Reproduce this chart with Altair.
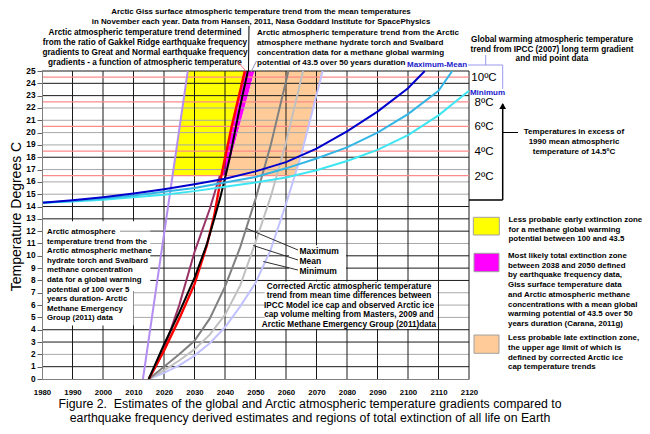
import altair as alt
import pandas as pd

# ---------------- data ----------------
X_TICKS = list(range(1980, 2121, 10))
Y_TICKS = list(range(0, 26))

# IPCC (2007) global warming trends
IPCC_MAX_YEAR = [1980, 1990, 2000, 2010, 2020, 2030, 2040, 2050, 2060, 2070, 2080, 2090, 2100, 2105.5]
IPCC_MAX_T = [14.3, 14.5, 14.75, 15.05, 15.4, 15.8, 16.25, 16.85, 17.6, 18.7, 20.1, 21.7, 23.6, 25.0]
IPCC_MEAN_YEAR = [1980, 1990, 2000, 2010, 2020, 2030, 2040, 2050, 2060, 2070, 2080, 2090, 2100, 2110, 2114.5]
IPCC_MEAN_T = [14.3, 14.45, 14.65, 14.9, 15.2, 15.5, 15.95, 16.4, 17.1, 17.9, 18.8, 20.0, 21.5, 23.4, 25.0]
IPCC_MIN_YEAR = [1980, 1990, 2000, 2010, 2020, 2030, 2040, 2050, 2060, 2070, 2080, 2090, 2100, 2110, 2120]
IPCC_MIN_T = [14.3, 14.4, 14.55, 14.75, 14.95, 15.25, 15.6, 15.95, 16.35, 16.95, 17.7, 18.6, 19.8, 21.4, 23.4]

# Arctic methane (GWP 100 over 5 years)
AMEG100_YEAR = [2013.1, 2027.8]
AMEG100_T = [0, 25]
# Arctic methane (GWP 43.5 over 50 years)
AMEG43_YEAR = [2015, 2017.5, 2020, 2025, 2030, 2035, 2038.3]
AMEG43_T = [0, 1.1, 2.4, 6.0, 10.3, 13.8, 16.5]
# Gakkel Ridge earthquake frequency trend
GAKKEL_YEAR = [2015, 2020, 2025, 2030, 2034, 2036.5, 2038.8, 2042, 2046.5]
GAKKEL_T = [0, 2.3, 4.9, 7.7, 10.8, 13.3, 16.5, 20.3, 25]
# Arctic GISS surface temperature trend
GISS_YEAR = [2015, 2020, 2025, 2030, 2034, 2036.5, 2038.3, 2040, 2041.5, 2044.5, 2047.5]
GISS_T = [0, 2.8, 5.4, 8.2, 10.9, 13.0, 14.6, 16.3, 17.9, 21.6, 25]
# Corrected Arctic ice-cap trends
ICE_MAX_YEAR = [2015, 2020, 2025, 2030, 2035, 2040, 2045, 2050, 2055, 2060.8]
ICE_MAX_T = [0, 1.0, 2.0, 3.1, 4.9, 7.5, 10.7, 14.6, 19.0, 25]
ICE_MEAN_YEAR = [2015, 2020, 2025, 2030, 2035, 2040, 2045, 2050, 2055, 2060, 2065.6]
ICE_MEAN_T = [0, 0.7, 1.5, 2.4, 3.6, 5.2, 7.6, 11.1, 14.8, 19.2, 25]
ICE_MIN_YEAR = [2015, 2020, 2025, 2030, 2035, 2040, 2045, 2050, 2055, 2060, 2065, 2072]
ICE_MIN_T = [0, 0.5, 1.1, 1.9, 2.9, 4.2, 5.9, 7.8, 10.5, 14.2, 18.2, 25]

# extinction zones (temperature levels and left/right year boundaries)
ZONE_T = [16.5, 18, 20, 22, 24, 25]
YELLOW_LEFT = [2022.8, 2023.7, 2024.9, 2026.0, 2027.2, 2027.8]
YELLOW_RIGHT = [2038.8, 2040.1, 2041.75, 2043.6, 2045.5, 2046.5]
MAGENTA_RIGHT = [2040.4, 2042.0, 2044.2, 2046.4, 2048.6, 2049.7]
ORANGE_RIGHT = [2062.9, 2064.75, 2066.85, 2068.9, 2071.0, 2072.0]

# excess-temperature reference lines
EXCESS_T = [24.5, 22.5, 20.5, 18.5, 16.5]
EXCESS_LABELS = ["10ºC", "8ºC", "6ºC", "4ºC", "2ºC"]

GRID_YEARS = list(range(1990, 2121, 10))
GRID_BLACK = [1, 3, 4, 8, 9, 10, 12, 13, 14, 18, 23, 24, 25]
GRID_GRAY = [2, 5, 6, 7, 11, 15, 16, 17, 19, 20, 21, 22]

# ---------------- chart ----------------
W, H = 427, 308
FONT = "Liberation Sans, Arial, sans-serif"

xs = alt.Scale(domain=[1980, 2120], nice=False, zero=False)
ys = alt.Scale(domain=[0, 25], nice=False, zero=False)

xaxis = alt.Axis(values=X_TICKS, title=None, grid=False, ticks=False, labelPadding=9,
                 labelFont=FONT, labelFontSize=7.8, labelFontWeight="bold", labelColor="black",
                 domainColor="#808080", format="d", zindex=1, labelFlush=False)
yaxis = alt.Axis(values=Y_TICKS, title="Temperature Degrees C", grid=False, tickSize=5,
                 tickColor="#606060", domainColor="#808080", labelPadding=2,
                 labelFont=FONT, labelFontSize=8.3, labelFontWeight="bold", labelColor="black",
                 titleFont=FONT, titleFontSize=14, titleFontWeight="normal", titleColor="black",
                 titleX=-26, titleY=145, titleAngle=270, titleAlign="center",
                 titleBaseline="middle", zindex=1, labelFlush=False)

DUMMY = pd.DataFrame({"k": [0]})


def X(field):
    return alt.X(field, type="quantitative", scale=xs, axis=xaxis)


def Y(field):
    return alt.Y(field, type="quantitative", scale=ys, axis=yaxis)


def curve(years, temps, color, width=2.0):
    df = pd.DataFrame({"year": years, "t": temps})
    return alt.Chart(df).mark_line(color=color, strokeWidth=width).encode(x=X("year"), y=Y("t"))


def zone(left, right, color):
    df = pd.DataFrame({"t": ZONE_T, "left": left, "right": right})
    return alt.Chart(df).mark_area(orient="horizontal", color=color, opacity=1).encode(
        y=Y("t"), x=X("left"), x2="right")


def hgrid(vals, color, width=1.0):
    return alt.Chart(pd.DataFrame({"t": vals})).mark_rule(color=color, strokeWidth=width).encode(y=Y("t"))


def vgrid(vals, color, width=1.0):
    return alt.Chart(pd.DataFrame({"year": vals})).mark_rule(color=color, strokeWidth=width).encode(x=X("year"))


def box(x1, x2, y1, y2, fill="white", stroke=None):
    kw = dict(fill=fill, opacity=1)
    if stroke:
        kw.update(stroke=stroke, strokeWidth=1)
    return alt.Chart(DUMMY).mark_rect(**kw).encode(
        x=alt.value(x1), x2=alt.value(x2), y=alt.value(y1), y2=alt.value(y2))


def seg(x1, y1, x2, y2, color="black", width=1.0):
    return alt.Chart(DUMMY).mark_rule(color=color, strokeWidth=width).encode(
        x=alt.value(x1), x2=alt.value(x2), y=alt.value(y1), y2=alt.value(y2))


def txt(x, y, lines, size=8.0, align="left", weight="bold", color="black", lh=9.7):
    # y is the centre of the first line
    n = len(lines)
    return alt.Chart(DUMMY).mark_text(
        text=lines if n > 1 else lines[0], align=align, baseline="middle", fontSize=size,
        fontWeight=weight, color=color, font=FONT, lineHeight=lh).encode(
        x=alt.value(x), y=alt.value(y))


layers = []
# zones
layers.append(zone(YELLOW_LEFT, YELLOW_RIGHT, "#ffff00"))
layers.append(zone(YELLOW_RIGHT, MAGENTA_RIGHT, "#ff00ff"))
layers.append(zone(MAGENTA_RIGHT, ORANGE_RIGHT, "#ffcc99"))
# grid
layers.append(hgrid(GRID_GRAY, "#a8a8a8"))
layers.append(hgrid(GRID_BLACK, "#1a1a1a"))
layers.append(vgrid(GRID_YEARS, "#1a1a1a"))
layers.append(hgrid(EXCESS_T, "#ff8a8a", 1.3))
# white text boxes covering grid
layers.append(box(0, 108.3, 150.3, 219.9))
layers.append(box(0, 91.5, 219.9, 254.4))
layers.append(box(247, 304, 174.3, 208.8))
layers.append(box(222.7, 395.3, 210.5, 258.0))
# curves
layers.append(curve(AMEG100_YEAR, AMEG100_T, "#b48ef0"))
layers.append(curve(ICE_MIN_YEAR, ICE_MIN_T, "#c2c2ff"))
layers.append(curve(ICE_MEAN_YEAR, ICE_MEAN_T, "#c0c0c0"))
layers.append(curve(ICE_MAX_YEAR, ICE_MAX_T, "#808080"))
layers.append(curve(AMEG43_YEAR, AMEG43_T, "#993366"))
layers.append(curve(GAKKEL_YEAR, GAKKEL_T, "#ff0000", 2.4))
layers.append(curve(GISS_YEAR, GISS_T, "#000000", 2.0))
layers.append(curve(IPCC_MIN_YEAR, IPCC_MIN_T, "#3ee6f2"))
layers.append(curve(IPCC_MEAN_YEAR, IPCC_MEAN_T, "#33b5e5"))
layers.append(curve(IPCC_MAX_YEAR, IPCC_MAX_T, "#0000cc"))

# excess temperature labels (right of plot)
deg = pd.DataFrame({"t": EXCESS_T, "label": EXCESS_LABELS})
layers.append(alt.Chart(deg).mark_text(align="center", baseline="middle", fontSize=11.5, dy=1,
                                       font=FONT, color="black").encode(
    y=Y("t"), x=alt.value(442), text="label:N"))

# top annotations
layers.append(txt(219, -58.8, ["Arctic Giss surface atmospheric temperature trend from the mean temperatures",
                               "in November each year. Data from Hansen, 2011, Nasa Goddard Institute for SpacePhysics"],
                  size=7.9, align="center", lh=9.6))
layers.append(seg(207, -45, 206.5, 0, "black", 1))
layers.append(txt(103, -37.7, ["Arctic atmospheric temperature trend determined",
                               "from the ratio of Gakkel Ridge earthquake frequency",
                               "gradients to Great and Normal earthquake frequency",
                               "gradients - a function of atmospheric temperature"],
                  size=8.2, align="center", lh=9.8))
layers.append(seg(195, -10, 203, -1, "#ff7070", 1))
layers.append(txt(215, -37.7, ["Arctic atmospheric temperature trend from the Arctic",
                               "atmosphere methane hydrate torch and Svalbard",
                               "concentration data for a methane global warming",
                               "potential of 43.5 over 50 years duration"],
                  size=8.0, align="left", lh=9.8))
layers.append(seg(214.5, -10, 209, 1, "#9090b0", 1))
layers.append(txt(510, -31, ["Global warming atmospheric temperature",
                             "trend from IPCC (2007) long term gradient",
                             "and mid point data"], size=8.2, align="center", lh=9.6))

# IPCC bracket and labels
layers.append(seg(426, -6, 460.7, -6, "#9999ee", 1))
layers.append(seg(443.7, -16, 443.7, -6, "#9999ee", 1))
layers.append(seg(460.7, -6, 460.7, 18, "#9999ee", 1))
layers.append(txt(395, -6, ["Maximum-Mean"], size=8, align="center", color="#2020cc"))
layers.append(txt(445.5, 21.5, ["Minimum"], size=8, align="center", color="#2020cc"))

# excess box with arrow
layers.append(seg(460.7, 33, 460.7, 129, "black", 1.5))
layers.append(seg(427, 129, 460.7, 129, "black", 1.5))
layers.append(alt.Chart(DUMMY).mark_point(shape="triangle-up", filled=True, color="black",
                                          size=45, opacity=1).encode(
    x=alt.value(460.7), y=alt.value(35)))
layers.append(seg(461, 61.5, 476, 61.5, "black", 1))
layers.append(txt(532, 61.3, ["Temperatures in excess of",
                              "1990 mean atmospheric",
                              "temperature of 14.5ºC"], size=8.0, align="center", lh=9.7))

# left box annotation
layers.append(seg(78, 160.2, 120, 160.2, "#909090", 1))
layers.append(txt(5, 161.3, ["Arctic atmosphere",
                             "temperature trend from the",
                             "Arctic atmospheric methane",
                             "hydrate torch and Svalbard",
                             "methane concentration",
                             "data for a global warming",
                             "potential of 100 over 5",
                             "years duration- Arctic",
                             "Methane Emergency",
                             "Group (2011) data"], size=7.8, align="left", lh=9.55))

# max / mean / min labels with leaders
layers.append(seg(204.7, 157.5, 256, 179, "#303030", 1))
layers.append(seg(211.3, 174.5, 256, 189, "#303030", 1))
layers.append(seg(221.3, 190.5, 256, 199, "#303030", 1))
layers.append(txt(257.5, 180, ["Maximum", "Mean", "Minimum"], size=8.5, align="left", lh=9.8))

# corrected trend text
layers.append(txt(307, 215.7, ["Corrected Arctic atmospheric temperature",
                               "trend from mean time differences between",
                               "IPCC Model ice cap and observed Arctic ice",
                               "cap volume melting from  Masters, 2009 and",
                               "Arctic Methane Emergency Group (2011)data"],
                  size=8.2, align="center", lh=9.5))

# legend
layers.append(box(431.3, 457.3, 146.3, 164, "#ffff00", "#a0a0a0"))
layers.append(txt(466.5, 149, ["Less probable early extinction zone",
                               "for a methane global warming",
                               "potential between 100 and 43.5"], size=7.9, lh=9.65))
layers.append(box(432, 457, 182.3, 200.7, "#ff00ff", "#a0a0a0"))
layers.append(txt(466, 185, ["Most likely total extinction zone",
                             "between 2038 and 2050 defined",
                             "by earthquake frequency data,",
                             "Giss surface temperature data",
                             "and Arctic atmospheric methane",
                             "concentrations with a mean global",
                             "warming potential of 43.5 over 50",
                             "years duration (Carana, 2011g)"], size=7.9, lh=9.7))
layers.append(box(432, 457, 264, 282.3, "#ffcc99", "#a0a0a0"))
layers.append(txt(466, 267.3, ["Less probable late extinction zone,",
                               "the upper age  limit of which is",
                               "defined by corrected Arctic ice",
                               "cap temperature trends"], size=7.9, lh=9.7))

# caption
layers.append(txt(268, 333.3, ["Figure 2.\u00a0 Estimates of the global and Arctic atmospheric temperature gradients compared to",
                               "earthquake frequency derived estimates and regions of total extinction of all life on Earth"],
                  size=12.3, align="center", weight="normal", lh=13.3))

chart = alt.layer(*layers).properties(
    width=W, height=H,
    autosize=alt.AutoSizeParams(type="none"),
    padding={"left": 34, "top": 63, "right": 173, "bottom": 47},
    background="white",
).configure_view(stroke=None)

chart.save("out.html", embed_options={"renderer": "svg", "actions": False})
